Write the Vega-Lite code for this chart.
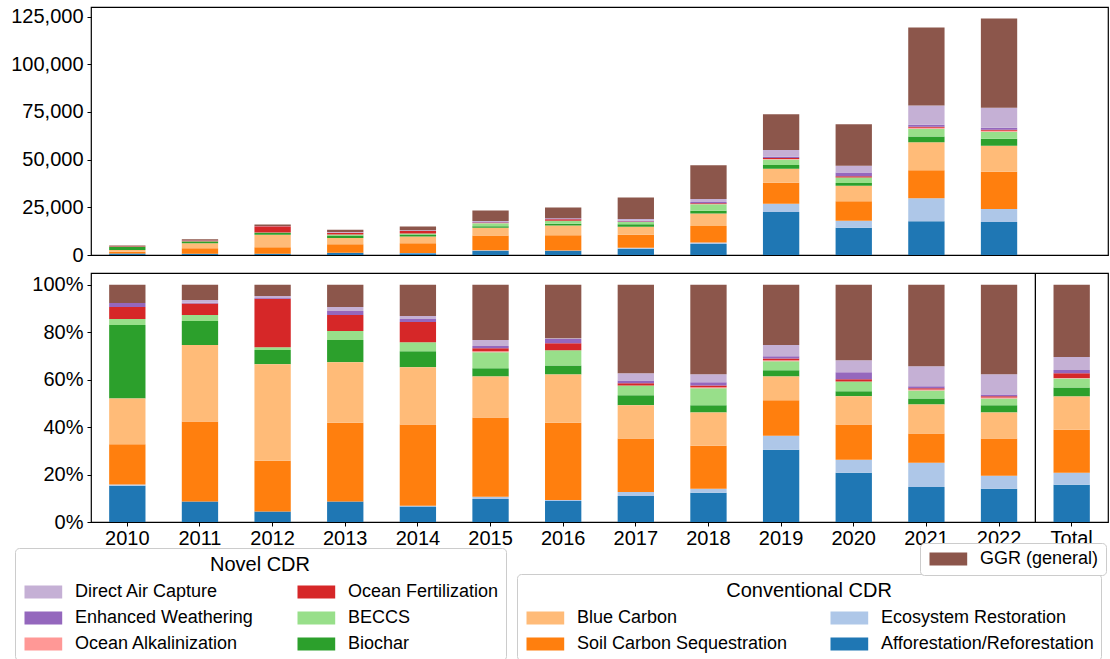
{
  "$schema": "https://vega.github.io/schema/vega-lite/v6.json",
  "padding": {"left": 10, "top": 5, "right": 0, "bottom": 0},
  "background": "white",
  "config": {
    "font": "Liberation Sans",
    "view": {"stroke": "black", "strokeWidth": 1.2},
    "axis": {
      "labelFont": "Liberation Sans",
      "labelFontSize": 20,
      "labelColor": "black",
      "tickColor": "black",
      "tickSize": 4,
      "tickWidth": 1,
      "domain": false,
      "grid": false,
      "title": null
    },
    "legend": {
      "labelFont": "Liberation Sans",
      "labelFontSize": 18,
      "labelColor": "black",
      "labelLimit": 400,
      "titleFont": "Liberation Sans",
      "titleFontSize": 20,
      "titleFontWeight": "normal",
      "titleColor": "black",
      "titleAnchor": "middle",
      "titlePadding": 8,
      "symbolType": "M-1,-1H4.8V1H-1Z",
      "symbolSize": 169,
      "symbolStrokeWidth": 0,
      "labelOffset": 35,
      "rowPadding": 8,
      "columnPadding": 42,
      "padding": 7,
      "strokeColor": "#cccccc",
      "cornerRadius": 4,
      "fillColor": "white"
    }
  },
  "data": {
    "values": [
      {"year": "2010", "category": "Afforestation/Reforestation", "group": "Conventional CDR", "value": 765},
      {"year": "2010", "category": "Ecosystem Restoration", "group": "Conventional CDR", "value": 25},
      {"year": "2010", "category": "Soil Carbon Sequestration", "group": "Conventional CDR", "value": 850},
      {"year": "2010", "category": "Blue Carbon", "group": "Conventional CDR", "value": 965},
      {"year": "2010", "category": "Biochar", "group": "Novel CDR", "value": 1550},
      {"year": "2010", "category": "BECCS", "group": "Novel CDR", "value": 125},
      {"year": "2010", "category": "Ocean Fertilization", "group": "Novel CDR", "value": 255},
      {"year": "2010", "category": "Enhanced Weathering", "group": "Novel CDR", "value": 85},
      {"year": "2010", "category": "GGR (general)", "group": "GGR", "value": 380},

      {"year": "2011", "category": "Afforestation/Reforestation", "group": "Conventional CDR", "value": 714},
      {"year": "2011", "category": "Soil Carbon Sequestration", "group": "Conventional CDR", "value": 2805},
      {"year": "2011", "category": "Blue Carbon", "group": "Conventional CDR", "value": 2673},
      {"year": "2011", "category": "Biochar", "group": "Novel CDR", "value": 838},
      {"year": "2011", "category": "BECCS", "group": "Novel CDR", "value": 216},
      {"year": "2011", "category": "Ocean Fertilization", "group": "Novel CDR", "value": 398},
      {"year": "2011", "category": "Enhanced Weathering", "group": "Novel CDR", "value": 33},
      {"year": "2011", "category": "Direct Air Capture", "group": "Novel CDR", "value": 91},
      {"year": "2011", "category": "GGR (general)", "group": "GGR", "value": 531},

      {"year": "2012", "category": "Afforestation/Reforestation", "group": "Conventional CDR", "value": 704},
      {"year": "2012", "category": "Soil Carbon Sequestration", "group": "Conventional CDR", "value": 3424},
      {"year": "2012", "category": "Blue Carbon", "group": "Conventional CDR", "value": 6512},
      {"year": "2012", "category": "Biochar", "group": "Novel CDR", "value": 960},
      {"year": "2012", "category": "BECCS", "group": "Novel CDR", "value": 192},
      {"year": "2012", "category": "Ocean Fertilization", "group": "Novel CDR", "value": 3264},
      {"year": "2012", "category": "Enhanced Weathering", "group": "Novel CDR", "value": 64},
      {"year": "2012", "category": "Direct Air Capture", "group": "Novel CDR", "value": 128},
      {"year": "2012", "category": "GGR (general)", "group": "GGR", "value": 752},

      {"year": "2013", "category": "Afforestation/Reforestation", "group": "Conventional CDR", "value": 1144},
      {"year": "2013", "category": "Soil Carbon Sequestration", "group": "Conventional CDR", "value": 4429},
      {"year": "2013", "category": "Blue Carbon", "group": "Conventional CDR", "value": 3392},
      {"year": "2013", "category": "Biochar", "group": "Novel CDR", "value": 1237},
      {"year": "2013", "category": "BECCS", "group": "Novel CDR", "value": 505},
      {"year": "2013", "category": "Ocean Fertilization", "group": "Novel CDR", "value": 904},
      {"year": "2013", "category": "Enhanced Weathering", "group": "Novel CDR", "value": 226},
      {"year": "2013", "category": "Direct Air Capture", "group": "Novel CDR", "value": 226},
      {"year": "2013", "category": "GGR (general)", "group": "GGR", "value": 1237},

      {"year": "2014", "category": "Afforestation/Reforestation", "group": "Conventional CDR", "value": 969},
      {"year": "2014", "category": "Ecosystem Restoration", "group": "Conventional CDR", "value": 45},
      {"year": "2014", "category": "Soil Carbon Sequestration", "group": "Conventional CDR", "value": 5111},
      {"year": "2014", "category": "Blue Carbon", "group": "Conventional CDR", "value": 3606},
      {"year": "2014", "category": "Biochar", "group": "Novel CDR", "value": 998},
      {"year": "2014", "category": "BECCS", "group": "Novel CDR", "value": 566},
      {"year": "2014", "category": "Ocean Fertilization", "group": "Novel CDR", "value": 1267},
      {"year": "2014", "category": "Enhanced Weathering", "group": "Novel CDR", "value": 194},
      {"year": "2014", "category": "Direct Air Capture", "group": "Novel CDR", "value": 194},
      {"year": "2014", "category": "GGR (general)", "group": "GGR", "value": 1952},

      {"year": "2015", "category": "Afforestation/Reforestation", "group": "Conventional CDR", "value": 2260},
      {"year": "2015", "category": "Ecosystem Restoration", "group": "Conventional CDR", "value": 210},
      {"year": "2015", "category": "Soil Carbon Sequestration", "group": "Conventional CDR", "value": 7806},
      {"year": "2015", "category": "Blue Carbon", "group": "Conventional CDR", "value": 4031},
      {"year": "2015", "category": "Biochar", "group": "Novel CDR", "value": 792},
      {"year": "2015", "category": "BECCS", "group": "Novel CDR", "value": 1584},
      {"year": "2015", "category": "Ocean Alkalinization", "group": "Novel CDR", "value": 93},
      {"year": "2015", "category": "Ocean Fertilization", "group": "Novel CDR", "value": 303},
      {"year": "2015", "category": "Enhanced Weathering", "group": "Novel CDR", "value": 210},
      {"year": "2015", "category": "Direct Air Capture", "group": "Novel CDR", "value": 583},
      {"year": "2015", "category": "GGR (general)", "group": "GGR", "value": 5429},

      {"year": "2016", "category": "Afforestation/Reforestation", "group": "Conventional CDR", "value": 2212},
      {"year": "2016", "category": "Ecosystem Restoration", "group": "Conventional CDR", "value": 99},
      {"year": "2016", "category": "Soil Carbon Sequestration", "group": "Conventional CDR", "value": 8101},
      {"year": "2016", "category": "Blue Carbon", "group": "Conventional CDR", "value": 5069},
      {"year": "2016", "category": "Biochar", "group": "Novel CDR", "value": 944},
      {"year": "2016", "category": "BECCS", "group": "Novel CDR", "value": 1590},
      {"year": "2016", "category": "Ocean Fertilization", "group": "Novel CDR", "value": 746},
      {"year": "2016", "category": "Enhanced Weathering", "group": "Novel CDR", "value": 422},
      {"year": "2016", "category": "Direct Air Capture", "group": "Novel CDR", "value": 99},
      {"year": "2016", "category": "GGR (general)", "group": "GGR", "value": 5591},

      {"year": "2017", "category": "Afforestation/Reforestation", "group": "Conventional CDR", "value": 3311},
      {"year": "2017", "category": "Ecosystem Restoration", "group": "Conventional CDR", "value": 512},
      {"year": "2017", "category": "Soil Carbon Sequestration", "group": "Conventional CDR", "value": 6773},
      {"year": "2017", "category": "Blue Carbon", "group": "Conventional CDR", "value": 4214},
      {"year": "2017", "category": "Biochar", "group": "Novel CDR", "value": 1264},
      {"year": "2017", "category": "BECCS", "group": "Novel CDR", "value": 1264},
      {"year": "2017", "category": "Ocean Fertilization", "group": "Novel CDR", "value": 271},
      {"year": "2017", "category": "Enhanced Weathering", "group": "Novel CDR", "value": 361},
      {"year": "2017", "category": "Direct Air Capture", "group": "Novel CDR", "value": 903},
      {"year": "2017", "category": "GGR (general)", "group": "GGR", "value": 11227},

      {"year": "2018", "category": "Afforestation/Reforestation", "group": "Conventional CDR", "value": 5790},
      {"year": "2018", "category": "Ecosystem Restoration", "group": "Conventional CDR", "value": 800},
      {"year": "2018", "category": "Soil Carbon Sequestration", "group": "Conventional CDR", "value": 8567},
      {"year": "2018", "category": "Blue Carbon", "group": "Conventional CDR", "value": 6590},
      {"year": "2018", "category": "Biochar", "group": "Novel CDR", "value": 1412},
      {"year": "2018", "category": "BECCS", "group": "Novel CDR", "value": 3389},
      {"year": "2018", "category": "Ocean Alkalinization", "group": "Novel CDR", "value": 188},
      {"year": "2018", "category": "Ocean Fertilization", "group": "Novel CDR", "value": 377},
      {"year": "2018", "category": "Enhanced Weathering", "group": "Novel CDR", "value": 612},
      {"year": "2018", "category": "Direct Air Capture", "group": "Novel CDR", "value": 1600},
      {"year": "2018", "category": "GGR (general)", "group": "GGR", "value": 17745},

      {"year": "2019", "category": "Afforestation/Reforestation", "group": "Conventional CDR", "value": 22490},
      {"year": "2019", "category": "Ecosystem Restoration", "group": "Conventional CDR", "value": 4351},
      {"year": "2019", "category": "Soil Carbon Sequestration", "group": "Conventional CDR", "value": 10987},
      {"year": "2019", "category": "Blue Carbon", "group": "Conventional CDR", "value": 7448},
      {"year": "2019", "category": "Biochar", "group": "Novel CDR", "value": 1917},
      {"year": "2019", "category": "BECCS", "group": "Novel CDR", "value": 2802},
      {"year": "2019", "category": "Ocean Alkalinization", "group": "Novel CDR", "value": 295},
      {"year": "2019", "category": "Ocean Fertilization", "group": "Novel CDR", "value": 516},
      {"year": "2019", "category": "Enhanced Weathering", "group": "Novel CDR", "value": 737},
      {"year": "2019", "category": "Direct Air Capture", "group": "Novel CDR", "value": 3466},
      {"year": "2019", "category": "GGR (general)", "group": "GGR", "value": 18730},

      {"year": "2020", "category": "Afforestation/Reforestation", "group": "Conventional CDR", "value": 14248},
      {"year": "2020", "category": "Ecosystem Restoration", "group": "Conventional CDR", "value": 3768},
      {"year": "2020", "category": "Soil Carbon Sequestration", "group": "Conventional CDR", "value": 10138},
      {"year": "2020", "category": "Blue Carbon", "group": "Conventional CDR", "value": 8152},
      {"year": "2020", "category": "Biochar", "group": "Novel CDR", "value": 1439},
      {"year": "2020", "category": "BECCS", "group": "Novel CDR", "value": 2877},
      {"year": "2020", "category": "Ocean Fertilization", "group": "Novel CDR", "value": 617},
      {"year": "2020", "category": "Enhanced Weathering", "group": "Novel CDR", "value": 1987},
      {"year": "2020", "category": "Direct Air Capture", "group": "Novel CDR", "value": 3494},
      {"year": "2020", "category": "GGR (general)", "group": "GGR", "value": 21783},

      {"year": "2021", "category": "Afforestation/Reforestation", "group": "Conventional CDR", "value": 17649},
      {"year": "2021", "category": "Ecosystem Restoration", "group": "Conventional CDR", "value": 12164},
      {"year": "2021", "category": "Soil Carbon Sequestration", "group": "Conventional CDR", "value": 14668},
      {"year": "2021", "category": "Blue Carbon", "group": "Conventional CDR", "value": 14668},
      {"year": "2021", "category": "Biochar", "group": "Novel CDR", "value": 2981},
      {"year": "2021", "category": "BECCS", "group": "Novel CDR", "value": 4055},
      {"year": "2021", "category": "Ocean Alkalinization", "group": "Novel CDR", "value": 477},
      {"year": "2021", "category": "Ocean Fertilization", "group": "Novel CDR", "value": 596},
      {"year": "2021", "category": "Enhanced Weathering", "group": "Novel CDR", "value": 954},
      {"year": "2021", "category": "Direct Air Capture", "group": "Novel CDR", "value": 10136},
      {"year": "2021", "category": "GGR (general)", "group": "GGR", "value": 40903},

      {"year": "2022", "category": "Afforestation/Reforestation", "group": "Conventional CDR", "value": 17353},
      {"year": "2022", "category": "Ecosystem Restoration", "group": "Conventional CDR", "value": 6817},
      {"year": "2022", "category": "Soil Carbon Sequestration", "group": "Conventional CDR", "value": 19460},
      {"year": "2022", "category": "Blue Carbon", "group": "Conventional CDR", "value": 13635},
      {"year": "2022", "category": "Biochar", "group": "Novel CDR", "value": 3719},
      {"year": "2022", "category": "BECCS", "group": "Novel CDR", "value": 3595},
      {"year": "2022", "category": "Ocean Alkalinization", "group": "Novel CDR", "value": 496},
      {"year": "2022", "category": "Ocean Fertilization", "group": "Novel CDR", "value": 620},
      {"year": "2022", "category": "Enhanced Weathering", "group": "Novel CDR", "value": 992},
      {"year": "2022", "category": "Direct Air Capture", "group": "Novel CDR", "value": 10536},
      {"year": "2022", "category": "GGR (general)", "group": "GGR", "value": 46729},

      {"year": "Total", "category": "Afforestation/Reforestation", "group": "Conventional CDR", "value": 15.7},
      {"year": "Total", "category": "Ecosystem Restoration", "group": "Conventional CDR", "value": 5.1},
      {"year": "Total", "category": "Soil Carbon Sequestration", "group": "Conventional CDR", "value": 18.2},
      {"year": "Total", "category": "Blue Carbon", "group": "Conventional CDR", "value": 14.0},
      {"year": "Total", "category": "Biochar", "group": "Novel CDR", "value": 3.8},
      {"year": "Total", "category": "BECCS", "group": "Novel CDR", "value": 3.8},
      {"year": "Total", "category": "Ocean Alkalinization", "group": "Novel CDR", "value": 0.2},
      {"year": "Total", "category": "Ocean Fertilization", "group": "Novel CDR", "value": 2.1},
      {"year": "Total", "category": "Enhanced Weathering", "group": "Novel CDR", "value": 1.3},
      {"year": "Total", "category": "Direct Air Capture", "group": "Novel CDR", "value": 5.5},
      {"year": "Total", "category": "GGR (general)", "group": "GGR", "value": 30.5}
    ]
  },
  "spacing": 5,
  "resolve": {"scale": {"color": "independent"}},
  "vconcat": [
    {
      "width": 1017,
      "height": 248,
      "transform": [
        {"filter": "datum.year !== 'Total'"},
        {"window": [{"op": "row_number", "as": "rank"}], "groupby": ["year"]}
      ],
      "mark": {"type": "bar"},
      "encoding": {
        "x": {
          "field": "year",
          "type": "nominal",
          "scale": {
            "domain": ["2010", "2011", "2012", "2013", "2014", "2015", "2016", "2017", "2018", "2019", "2020", "2021", "2022", "Total"],
            "paddingInner": 0.5,
            "paddingOuter": 0.25
          },
          "axis": null
        },
        "y": {
          "field": "value",
          "type": "quantitative",
          "stack": "zero",
          "scale": {"domain": [0, 130000], "nice": false},
          "axis": {"values": [0, 25000, 50000, 75000, 100000, 125000], "format": ",.0f", "labelPadding": 4}
        },
        "color": {
          "field": "category",
          "type": "nominal",
          "scale": {
            "domain": ["Afforestation/Reforestation", "Ecosystem Restoration", "Soil Carbon Sequestration", "Blue Carbon", "Biochar", "BECCS", "Ocean Alkalinization", "Ocean Fertilization", "Enhanced Weathering", "Direct Air Capture", "GGR (general)"],
            "range": ["#1f77b4", "#aec7e8", "#ff7f0e", "#ffbb78", "#2ca02c", "#98df8a", "#ff9896", "#d62728", "#9467bd", "#c5b0d5", "#8c564b"]
          },
          "legend": null
        },
        "order": {"field": "rank", "type": "quantitative"}
      }
    },
    {
      "width": 1017,
      "height": 249,
      "transform": [
        {"window": [{"op": "row_number", "as": "rank"}], "groupby": ["year"]},
        {"stack": "value", "groupby": ["year"], "sort": [{"field": "rank", "order": "ascending"}], "offset": "normalize", "as": ["y0", "y1"]}
      ],
      "encoding": {
        "x": {
          "field": "year",
          "type": "nominal",
          "scale": {
            "domain": ["2010", "2011", "2012", "2013", "2014", "2015", "2016", "2017", "2018", "2019", "2020", "2021", "2022", "Total"],
            "paddingInner": 0.5,
            "paddingOuter": 0.25
          },
          "axis": {"labelAngle": 0, "labelPadding": 2}
        }
      },
      "layer": [
        {
          "transform": [{"filter": "datum.group === 'Novel CDR'"}],
          "mark": {"type": "bar"},
          "encoding": {
            "y": {
              "field": "y0",
              "type": "quantitative",
              "scale": {"domain": [0, 1.05], "nice": false},
              "axis": {"values": [0, 0.2, 0.4, 0.6, 0.8, 1], "format": ".0%", "labelPadding": 4}
            },
            "y2": {"field": "y1"},
            "color": {
              "field": "category",
              "type": "nominal",
              "scale": {
                "domain": ["Direct Air Capture", "Enhanced Weathering", "Ocean Alkalinization", "Ocean Fertilization", "BECCS", "Biochar"],
                "range": ["#c5b0d5", "#9467bd", "#ff9896", "#d62728", "#98df8a", "#2ca02c"]
              },
              "legend": {"title": "Novel CDR", "orient": "none", "legendX": -76, "legendY": 275, "columns": 2}
            }
          }
        },
        {
          "transform": [{"filter": "datum.group === 'Conventional CDR'"}],
          "mark": {"type": "bar"},
          "encoding": {
            "y": {"field": "y0", "type": "quantitative"},
            "y2": {"field": "y1"},
            "color": {
              "field": "category",
              "type": "nominal",
              "scale": {
                "domain": ["Blue Carbon", "Soil Carbon Sequestration", "Ecosystem Restoration", "Afforestation/Reforestation"],
                "range": ["#ffbb78", "#ff7f0e", "#aec7e8", "#1f77b4"]
              },
              "legend": {"title": "Conventional CDR", "orient": "none", "legendX": 426, "legendY": 301, "columns": 2, "columnPadding": 40}
            }
          }
        },
        {
          "transform": [{"filter": "datum.group === 'GGR'"}],
          "mark": {"type": "bar"},
          "encoding": {
            "y": {"field": "y0", "type": "quantitative"},
            "y2": {"field": "y1"},
            "color": {
              "field": "category",
              "type": "nominal",
              "scale": {"domain": ["GGR (general)"], "range": ["#8c564b"]},
              "legend": {"title": null, "orient": "none", "legendX": 829, "legendY": 270}
            }
          }
        },
        {
          "data": {"values": [{"year": "2022"}]},
          "mark": {"type": "rule", "color": "black", "strokeWidth": 1.3},
          "encoding": {
            "x": {"field": "year", "type": "nominal", "bandPosition": 1.5}
          }
        }
      ],
      "resolve": {"scale": {"color": "independent"}}
    }
  ]
}
